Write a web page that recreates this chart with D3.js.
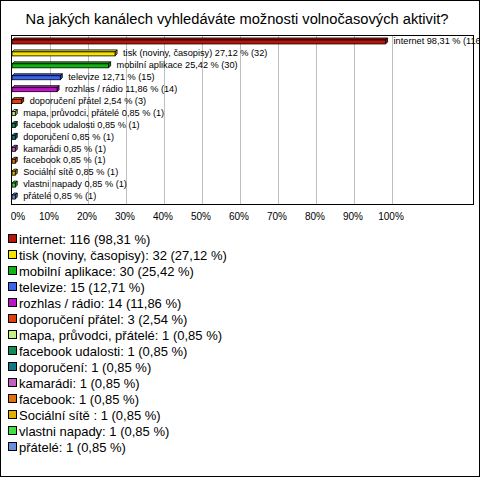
<!DOCTYPE html>
<html><head><meta charset="utf-8">
<script src="https://cdn.jsdelivr.net/npm/d3@7"></script>
<style>body{margin:0;background:#fff}svg{display:block}text{font-family:"Liberation Sans",Arial,sans-serif}</style>
</head><body>
<script>
const title = "Na jakých kanálech vyhledáváte možnosti volnočasových aktivit?";
const categories = ["internet","tisk (noviny, časopisy)","mobilní aplikace","televize","rozhlas / rádio","doporučení přátel","mapa, průvodci, přátelé","facebook udalosti","doporučení","kamarádi","facebook","Sociální sítě ","vlastni napady","přátelé"];
const counts = [116,32,30,15,14,3,1,1,1,1,1,1,1,1];
const percents = [98.31,27.12,25.42,12.71,11.86,2.54,0.85,0.85,0.85,0.85,0.85,0.85,0.85,0.85];
const colors = ["#b8140c","#f5e400","#12b412","#3c64ee","#c012c8","#e0400e","#c4f084","#108c58","#107888","#c060c0","#e07010","#e0b000","#40e040","#6890e0"];
const xTicks = [0,10,20,30,40,50,60,70,80,90,100];

const W=480,H=477;
const svg=d3.select("body").append("svg").attr("width",W).attr("height",H);
svg.append("rect").attr("x",0.5).attr("y",0.5).attr("width",W-1).attr("height",H-1).attr("fill","#fff").attr("stroke","#000");

svg.append("text").attr("x",237).attr("y",24).attr("text-anchor","middle").attr("font-size",14.7).text(title);

const plot={l:11.5,t:35.5,r:473.5,b:204.5};
const x=d3.scaleLinear().domain([0,100]).range([12,392]);
const y=d3.scaleBand().domain(categories).range([35,202]).paddingInner(0);

// gridlines
svg.append("g").selectAll("line").data(xTicks.slice(1)).join("line")
  .attr("x1",d=>Math.round(x(d))+0.5).attr("x2",d=>Math.round(x(d))+0.5)
  .attr("y1",plot.t).attr("y2",plot.b).attr("stroke","#c0c0c0");
svg.append("rect").attr("x",plot.l).attr("y",plot.t).attr("width",plot.r-plot.l).attr("height",plot.b-plot.t)
  .attr("fill","none").attr("stroke","#000");

const fmt = v => d3.format(".2f")(v).replace(".",",");
const dep=2, bh=4;
const bars=svg.append("g");
categories.forEach((c,i)=>{
  const x0=x(0), x1=x(percents[i]);
  const cy=y(c)+y.bandwidth()/2;
  const top=cy-bh/2+1, bot=top+bh;
  const col=colors[i];
  const dark=d3.color(col).darker(0.8);
  bars.append("path").attr("d",`M${x0},${top}L${x0+dep},${top-dep}L${x1+dep},${top-dep}L${x1},${top}Z`)
    .attr("fill",col).attr("stroke","#000").attr("stroke-width",0.8);
  bars.append("path").attr("d",`M${x1},${top}L${x1+dep},${top-dep}L${x1+dep},${bot-dep}L${x1},${bot}Z`)
    .attr("fill",dark).attr("stroke","#000").attr("stroke-width",0.8);
  bars.append("rect").attr("x",x0).attr("y",top).attr("width",x1-x0).attr("height",bh)
    .attr("fill",col).attr("stroke","#000").attr("stroke-width",0.8);
  bars.append("text").attr("x",x1+dep+6).attr("y",cy).attr("dy","0.35em").attr("font-size",9.2)
    .text(`${c} ${fmt(percents[i])} % (${counts[i]})`);
});

svg.append("g").selectAll("text").data(xTicks).join("text")
  .attr("x",d=>d===0?18:x(d)-1).attr("y",216).attr("dy","0.35em").attr("text-anchor","middle")
  .attr("font-size",10).text(d=>d+"%");

const lg=svg.append("g");
categories.forEach((c,i)=>{
  const cy=239+i*16;
  lg.append("rect").attr("x",8.5).attr("y",cy-4.5).attr("width",8).attr("height",8)
    .attr("fill",colors[i]).attr("stroke","#000");
  lg.append("text").attr("x",19).attr("y",cy).attr("dy","0.35em").attr("font-size",13)
    .text(`${c}: ${counts[i]} (${fmt(percents[i])} %)`);
});
</script>
</body></html>
